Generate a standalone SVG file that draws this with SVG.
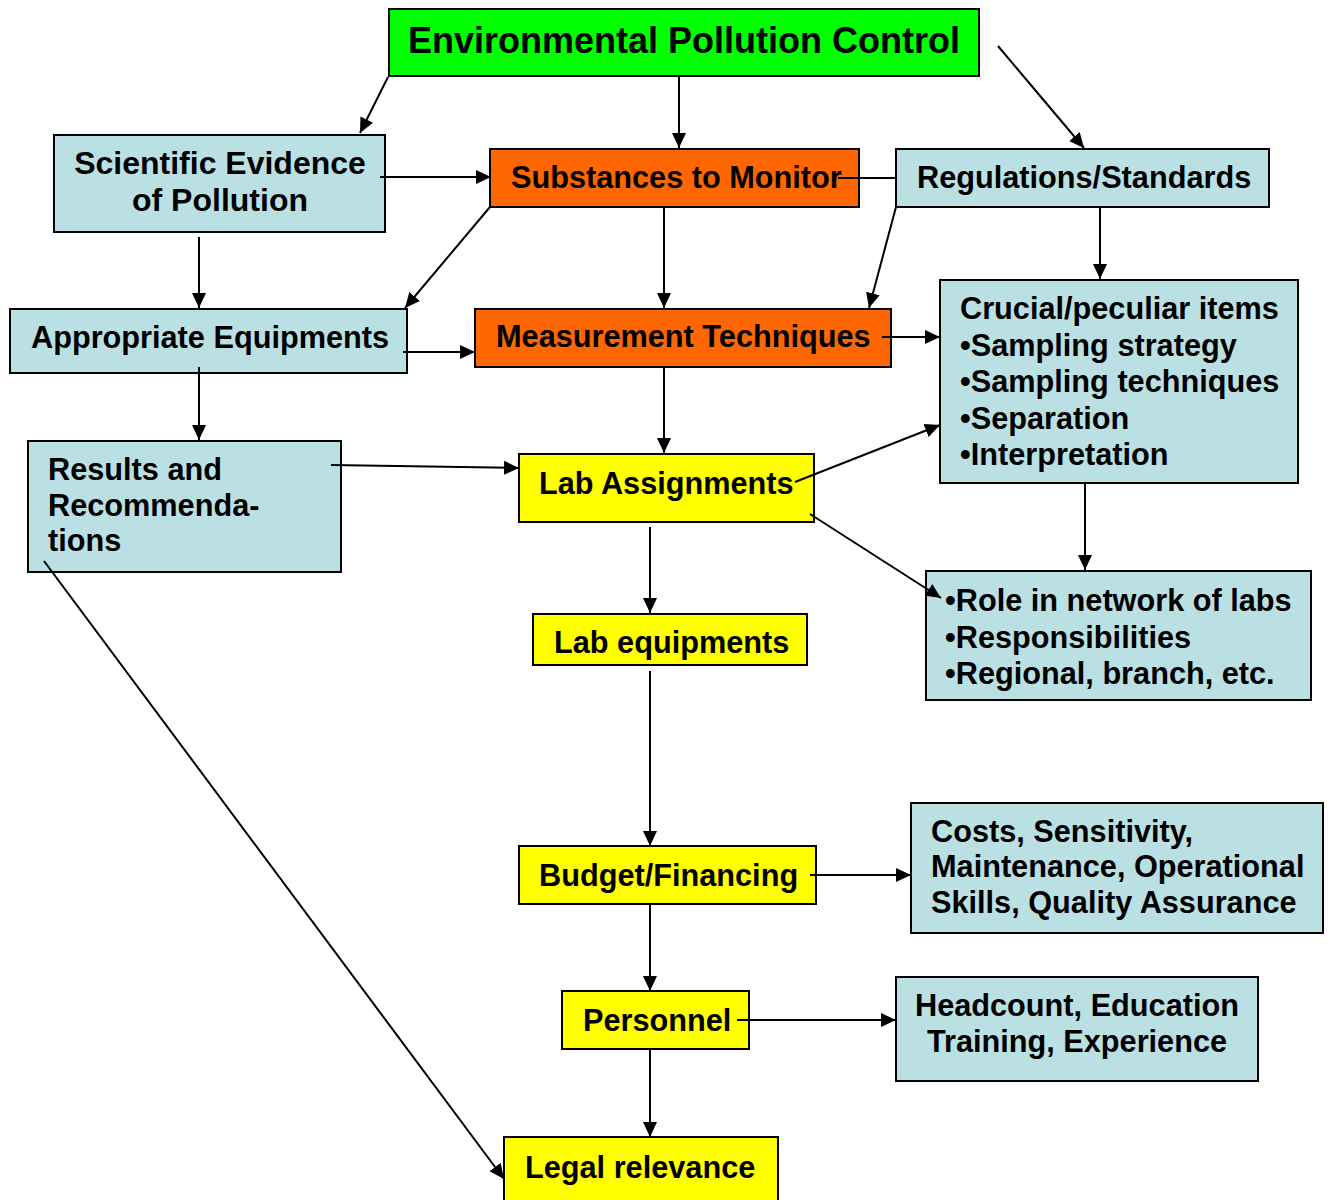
<svg xmlns="http://www.w3.org/2000/svg" width="1331" height="1200" viewBox="0 0 1331 1200">
<defs>
<marker id="ah" markerUnits="userSpaceOnUse" markerWidth="16" markerHeight="14" refX="15" refY="7" orient="auto">
<path d="M0,0 L15,7 L0,14 Z" fill="#000"/>
</marker>
<style>
.box{stroke:#000;stroke-width:2}
.blue{fill:#BBE0E3}
.green{fill:#00FF00}
.orange{fill:#FF6600}
.yellow{fill:#FFFF00}
text{font-family:"Liberation Sans",Arial,sans-serif;font-weight:bold;font-size:30.7px;fill:#000}
.title{font-size:36px}
.big{font-size:32px}
.c{text-anchor:middle}
.ln{stroke:#000;stroke-width:2;fill:none}
.ar{marker-end:url(#ah)}
</style>
</defs>
<rect width="1331" height="1200" fill="#fff"/>
<g id="n-title">
<rect class="box green" x="389" y="9" width="590" height="67"/>
<text class="title c" x="684" y="53">Environmental Pollution Control</text>
</g>
<g id="n-scientific">
<rect class="box blue" x="54" y="135" width="331" height="97"/>
<text class="c big" x="220" y="174">Scientific Evidence</text>
<text class="c big" x="220" y="211">of Pollution</text>
</g>
<g id="n-substances">
<rect class="box orange" x="490" y="149" width="369" height="58"/>
<text x="511" y="188">Substances to Monitor</text>
</g>
<g id="n-regulations">
<rect class="box blue" x="896" y="149" width="373" height="58"/>
<text x="917" y="188">Regulations/Standards</text>
</g>
<g id="n-appropriate">
<rect class="box blue" x="10" y="309" width="397" height="64"/>
<text x="31" y="348">Appropriate Equipments</text>
</g>
<g id="n-measurement">
<rect class="box orange" x="475" y="309" width="416" height="58"/>
<text x="496" y="347">Measurement Techniques</text>
</g>
<g id="n-crucial">
<rect class="box blue" x="940" y="280" width="358" height="203"/>
<text x="960" y="319">Crucial/peculiar items</text>
<text x="960" y="356">•Sampling strategy</text>
<text x="960" y="392">•Sampling techniques</text>
<text x="960" y="429">•Separation</text>
<text x="960" y="465">•Interpretation</text>
</g>
<g id="n-results">
<rect class="box blue" x="28" y="441" width="313" height="131"/>
<text x="48" y="480">Results and</text>
<text x="48" y="516">Recommenda-</text>
<text x="48" y="551">tions</text>
</g>
<g id="n-labassign">
<rect class="box yellow" x="519" y="454" width="295" height="68"/>
<text x="539" y="494">Lab Assignments</text>
</g>
<g id="n-role">
<rect class="box blue" x="926" y="571" width="385" height="129"/>
<text x="945" y="611">•Role in network of labs</text>
<text x="945" y="648">•Responsibilities</text>
<text x="945" y="684">•Regional, branch, etc.</text>
</g>
<g id="n-labequip">
<rect class="box yellow" x="533" y="614" width="274" height="51"/>
<text x="554" y="653">Lab equipments</text>
</g>
<g id="n-costs">
<rect class="box blue" x="911" y="803" width="412" height="130"/>
<text x="931" y="842">Costs, Sensitivity,</text>
<text x="931" y="877">Maintenance, Operational</text>
<text x="931" y="913">Skills, Quality Assurance</text>
</g>
<g id="n-budget">
<rect class="box yellow" x="519" y="846" width="297" height="58"/>
<text x="539" y="886">Budget/Financing</text>
</g>
<g id="n-headcount">
<rect class="box blue" x="896" y="977" width="362" height="104"/>
<text class="c" x="1077" y="1016">Headcount, Education</text>
<text class="c" x="1077" y="1052">Training, Experience</text>
</g>
<g id="n-personnel">
<rect class="box yellow" x="562" y="991" width="187" height="58"/>
<text x="583" y="1031">Personnel</text>
</g>
<g id="n-legal">
<rect class="box yellow" x="504" y="1137" width="274" height="64"/>
<text x="525" y="1178">Legal relevance</text>
</g>
<g id="connectors">
<line class="ln ar" x1="388" y1="77" x2="360" y2="133"/>
<line class="ln ar" x1="679" y1="77" x2="679" y2="148"/>
<line class="ln ar" x1="998" y1="46" x2="1084" y2="148"/>
<line class="ln ar" x1="380" y1="177" x2="491" y2="177"/>
<line class="ln" x1="838" y1="178" x2="896" y2="178"/>
<line class="ln ar" x1="490" y1="207" x2="405" y2="308"/>
<line class="ln ar" x1="199" y1="237" x2="199" y2="308"/>
<line class="ln ar" x1="664" y1="207" x2="664" y2="308"/>
<line class="ln ar" x1="896" y1="207" x2="869" y2="308"/>
<line class="ln ar" x1="1100" y1="207" x2="1100" y2="279"/>
<line class="ln ar" x1="403" y1="352" x2="475" y2="352"/>
<line class="ln ar" x1="882" y1="337" x2="940" y2="337"/>
<line class="ln ar" x1="199" y1="367" x2="199" y2="440"/>
<line class="ln ar" x1="664" y1="367" x2="664" y2="453"/>
<line class="ln ar" x1="331" y1="465" x2="519" y2="468"/>
<line class="ln ar" x1="795" y1="482" x2="940" y2="425"/>
<line class="ln ar" x1="810" y1="514" x2="941" y2="598"/>
<line class="ln ar" x1="1085" y1="483" x2="1085" y2="570"/>
<line class="ln ar" x1="650" y1="527" x2="650" y2="613"/>
<line class="ln ar" x1="650" y1="671" x2="650" y2="846"/>
<line class="ln ar" x1="810" y1="875" x2="911" y2="875"/>
<line class="ln ar" x1="650" y1="904" x2="650" y2="991"/>
<line class="ln ar" x1="737" y1="1020" x2="896" y2="1020"/>
<line class="ln ar" x1="650" y1="1049" x2="650" y2="1137"/>
<line class="ln ar" x1="44" y1="561" x2="504" y2="1179"/>
</g>
</svg>
